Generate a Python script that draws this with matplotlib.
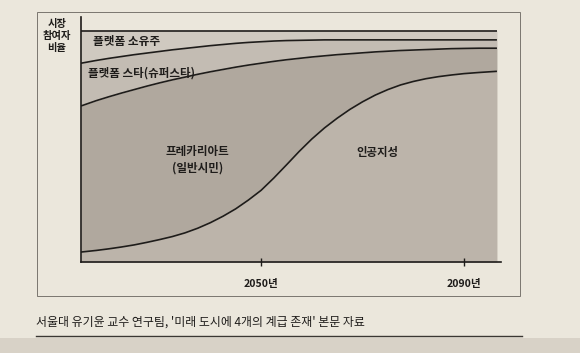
import matplotlib
matplotlib.use("Agg")
import matplotlib.pyplot as plt
from matplotlib.patches import Rectangle
from matplotlib.lines import Line2D

plt.rcParams['font.family'] = ['Noto Sans CJK KR', 'DejaVu Sans']

# ---- data (share of market participants, %) ----
years = [2014.5, 2017.5, 2020, 2022.5, 2025, 2027.5, 2030, 2032.5, 2035, 2037.5,
         2040, 2042.5, 2045, 2047.5, 2050, 2052.5, 2055, 2057.5, 2060, 2062.5,
         2065, 2067.5, 2070, 2072.5, 2075, 2077.5, 2080, 2082.5, 2085, 2087.5,
         2090, 2093, 2096.5]
ai_top = [4.3, 5.0, 5.7, 6.5, 7.4, 8.5, 9.7, 11.0, 12.6, 14.6,
          17.0, 19.8, 23.0, 26.8, 31.0, 36.3, 42.0, 47.8, 53.2, 58.0,
          62.2, 66.0, 69.3, 72.2, 74.6, 76.6, 78.1, 79.3, 80.2, 80.9,
          81.5, 82.0, 82.5]                                   # 인공지성 upper edge
precariat_top = [67.5, 69.8, 71.5, 73.1, 74.6, 76.1, 77.5, 78.8, 80.0, 81.2,
                 82.3, 83.3, 84.3, 85.2, 86.0, 86.8, 87.5, 88.1, 88.7, 89.2,
                 89.7, 90.1, 90.5, 90.9, 91.2, 91.5, 91.7, 91.9, 92.1, 92.3,
                 92.4, 92.5, 92.5]                            # 프레카리아트 upper edge
star_top = [86.0, 87.2, 88.1, 88.9, 89.7, 90.4, 91.1, 91.8, 92.4, 93.0,
            93.6, 94.1, 94.6, 95.0, 95.3, 95.6, 95.8, 95.9, 96.0, 96.1,
            96.1, 96.1, 96.1, 96.1, 96.1, 96.1, 96.1, 96.1, 96.1, 96.1,
            96.1, 96.1, 96.1]                                 # 플랫폼 스타 upper edge
owner_top = [100] * len(years)                                # 플랫폼 소유주 upper edge

tick_years = [2050, 2090]
tick_labels = ['2050년', '2090년']

W, H = 580, 353
fig = plt.figure(figsize=(W / 100, H / 100), dpi=100)
fig.patch.set_facecolor('#ebe7dc')


def px(x, y):
    return x / W, 1 - y / H


# page decorations: shadow at bottom, frame box, caption underline
fig.patches.append(Rectangle(px(0, 353), 1, 15 / H, transform=fig.transFigure,
                             facecolor='#d8d2c7', edgecolor='none', zorder=0))
x0, y0 = px(37, 296)
fig.patches.append(Rectangle((x0, y0), (520 - 37) / W, (296 - 12) / H,
                             transform=fig.transFigure, facecolor='none',
                             edgecolor='#7a766f', linewidth=0.7, zorder=1))
fig.lines.append(Line2D([36 / W, 522 / W], [1 - 336 / H, 1 - 336 / H],
                        transform=fig.transFigure, color='#3a3733', linewidth=1.0))

ax = fig.add_axes([81 / W, 1 - 262 / H, (501 - 81) / W, (262 - 17) / H])
ax.set_facecolor('none')
ax.set_xlim(2014.5, 2097.3)
ax.set_ylim(0, 106)

c_owner = '#cfc9c0'
c_star = '#c3bcb3'
c_prec = '#b0a89e'
c_ai = '#bcb4aa'

ax.fill_between(years, 0, ai_top, color=c_ai, linewidth=0)
ax.fill_between(years, ai_top, precariat_top, color=c_prec, linewidth=0)
ax.fill_between(years, precariat_top, star_top, color=c_star, linewidth=0)
ax.fill_between(years, star_top, owner_top, color=c_owner, linewidth=0)

for s in (ai_top, precariat_top, star_top, owner_top):
    ax.plot(years, s, color='#1e1c1a', linewidth=1.2, solid_capstyle='butt',
            solid_joinstyle='round')

for side in ('top', 'right'):
    ax.spines[side].set_visible(False)
for side in ('left', 'bottom'):
    ax.spines[side].set_color('#1e1c1a')
    ax.spines[side].set_linewidth(1.2)

ax.set_yticks([])
ax.set_xticks(tick_years)
ax.set_xticklabels(tick_labels, fontsize=7.6, fontweight='bold', color='#1e1c1a')
ax.tick_params(axis='x', direction='inout', length=6, width=1.0,
               color='#1e1c1a', pad=9)

tk = dict(color='#1e1c1a', fontweight='bold')
ax.text(2016.9, 95.2, '플랫폼 소유주', fontsize=8.4, va='center', ha='left', **tk)
ax.text(2015.9, 81.8, '플랫폼 스타(슈퍼스타)', fontsize=8.3, va='center', ha='left', **tk)
ax.text(2037.4, 44.2, '프레카리아트\n(일반시민)', fontsize=8.3, va='center', ha='center',
        linespacing=1.3, **tk)
ax.text(2072.9, 47.2, '인공지성', fontsize=8.2, va='center', ha='center', **tk)

fig.text(57 / W, 1 - 36.5 / H, '시장\n참여자\n비율', fontsize=7.4, fontweight='bold',
         ha='center', va='center', linespacing=1.25, color='#1e1c1a')

fig.text(36 / W, 1 - 322 / H,
         "서울대 유기윤 교수 연구팀, '미래 도시에 4개의 계급 존재' 본문 자료",
         fontsize=8.6, fontweight='medium', ha='left', va='center', color='#1e1c1a')

fig.savefig('out.png', dpi=100, facecolor=fig.get_facecolor())
